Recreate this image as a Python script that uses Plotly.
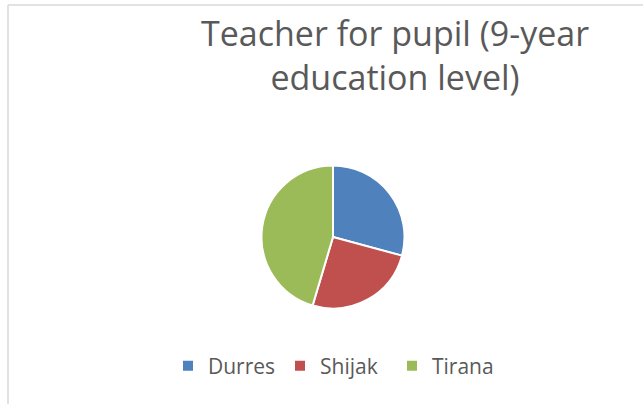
import plotly.graph_objects as go

categories = ["Durres", "Shijak", "Tirana"]
values = [29.2, 25.4, 45.4]
colors = ["#4F81BD", "#C0504D", "#9BBB59"]
title_text = "Teacher for pupil (9-year<br>education level)"

W, H = 643, 404
cx, cy, r = 333, 237, 71.5

fig = go.Figure(go.Pie(
    labels=categories,
    values=values,
    sort=False,
    direction="clockwise",
    rotation=0,
    textinfo="none",
    hoverinfo="label+percent",
    marker=dict(colors=colors, line=dict(color="white", width=2)),
    domain=dict(x=[(cx - r) / W, (cx + r) / W], y=[(H - cy - r) / H, (H - cy + r) / H]),
))

fig.update_layout(
    width=W, height=H,
    margin=dict(l=0, r=0, t=0, b=0),
    paper_bgcolor="white",
    font=dict(family="Open Sans, sans-serif", color="#595959"),
    showlegend=True,
    legend=dict(orientation="h", x=168 / W, xanchor="left", y=(H - 366) / H, yanchor="middle",
                entrywidth=67, entrywidthmode="pixels",
                font=dict(size=21, color="#595959"), itemclick=False),
    annotations=[dict(text=title_text, x=395 / W, y=(H - 8) / H, xref="paper", yref="paper",
                      xanchor="center", yanchor="top", showarrow=False,
                      font=dict(size=34, color="#595959"), align="center")],
    shapes=[
        dict(type="line", xref="paper", yref="paper", x0=8 / W, x1=1, y0=(H - 5) / H, y1=(H - 5) / H,
             line=dict(color="#D9D9D9", width=1.5)),
        dict(type="line", xref="paper", yref="paper", x0=8 / W, x1=8 / W, y0=0, y1=(H - 5) / H,
             line=dict(color="#D9D9D9", width=1.5)),
    ],
)

fig.write_html("out.html", config={"displayModeBar": False},
               post_script="document.body.style.margin='0';")
